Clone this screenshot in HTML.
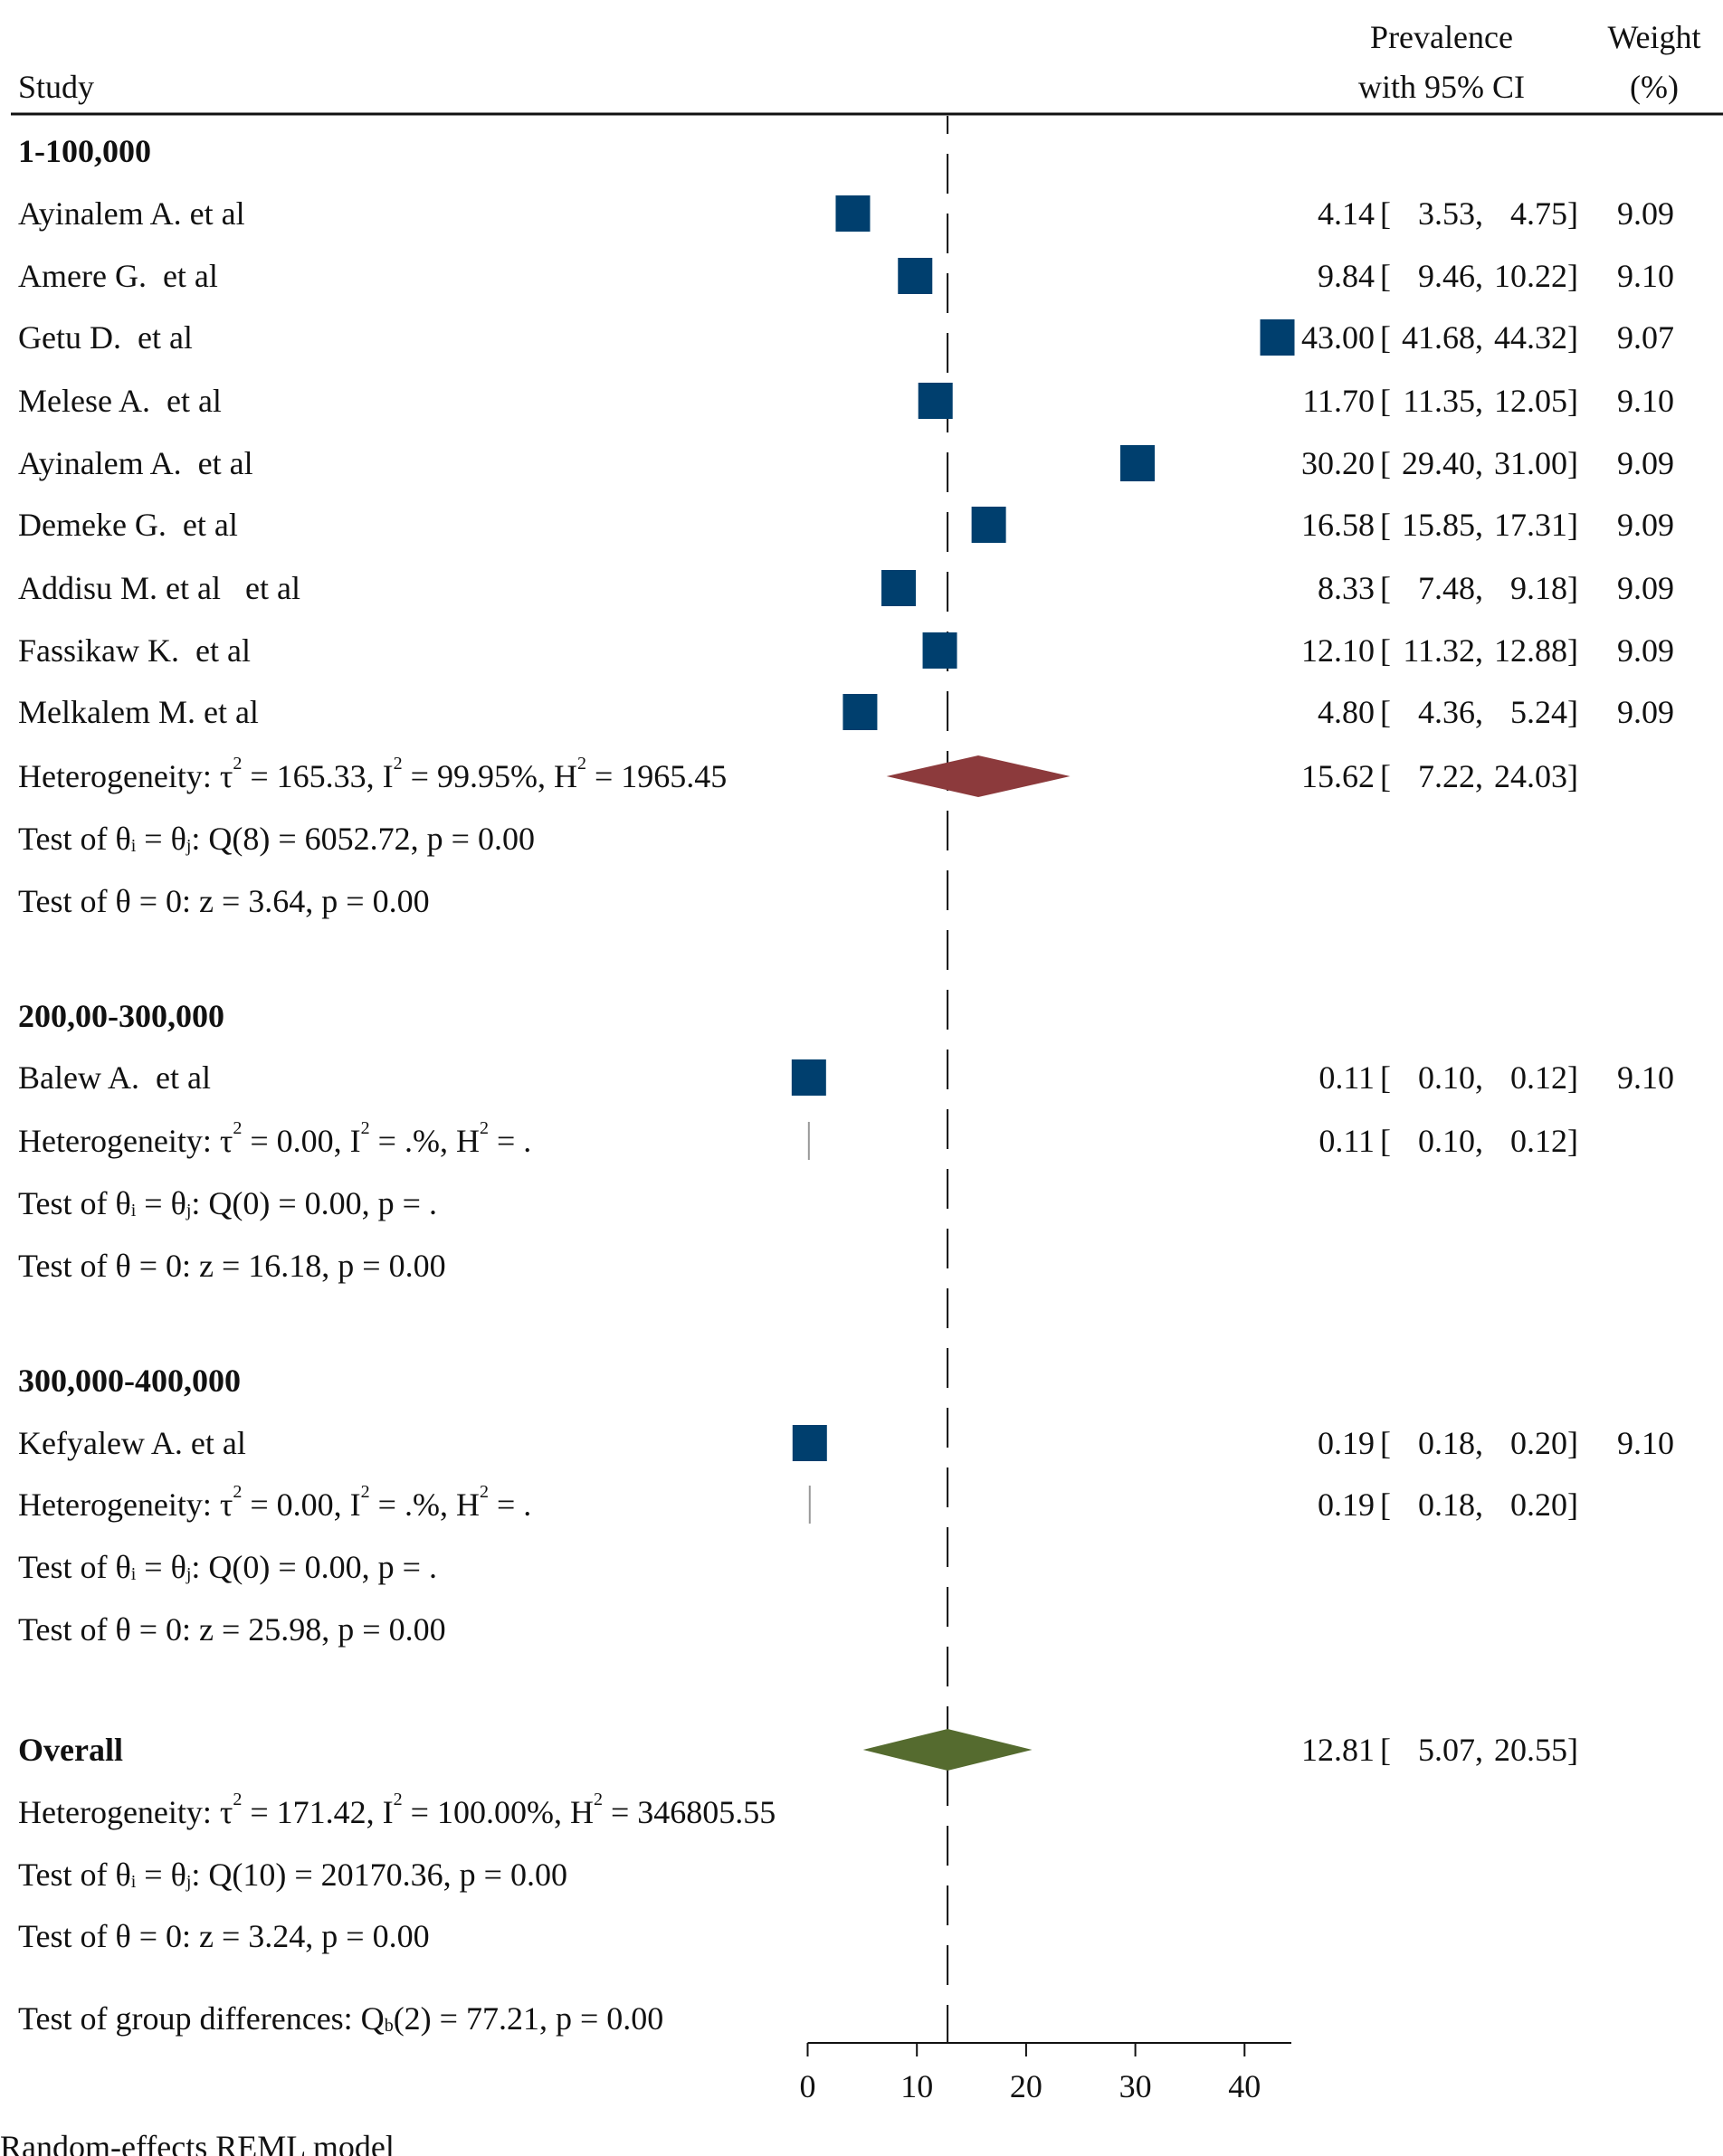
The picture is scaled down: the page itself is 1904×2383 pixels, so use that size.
<!DOCTYPE html>
<html><head><meta charset="utf-8"><style>
html,body{margin:0;padding:0;background:#fff;}
svg{display:block;font-family:"Liberation Serif",serif;}
text{font-size:36px;fill:#111;white-space:pre;}
</style></head><body>
<svg id="chart" width="1904" height="2383" viewBox="0 0 1904 2383" xmlns="http://www.w3.org/2000/svg" xml:space="preserve">
<g>
<text x="20" y="96" dominant-baseline="central">Study</text>
<text x="1593" y="41" text-anchor="middle" dominant-baseline="central">Prevalence</text>
<text x="1593" y="96" text-anchor="middle" dominant-baseline="central">with 95% CI</text>
<text x="1828" y="41" text-anchor="middle" dominant-baseline="central">Weight</text>
<text x="1828" y="96" text-anchor="middle" dominant-baseline="central">(%)</text>
<line x1="12" y1="126" x2="1904" y2="126" stroke="#111" stroke-width="3"/>
</g>
<line id="nullline" stroke="#111" stroke-width="2" stroke-dasharray="44 22" stroke-dashoffset="24"/>
<g id="rows"></g>
<g id="axis"></g>
<text x="0" y="2373" dominant-baseline="central">Random-effects REML model</text>
</svg>
<script>
const studyNames = ["Ayinalem A. et al","Amere G.  et al","Getu D.  et al","Melese A.  et al","Ayinalem A.  et al","Demeke G.  et al","Addisu M. et al   et al","Fassikaw K.  et al","Melkalem M. et al","Balew A.  et al","Kefyalew A. et al"];
const studyEst = [4.14,9.84,43.00,11.70,30.20,16.58,8.33,12.10,4.80,0.11,0.19];
const studyLo = [3.53,9.46,41.68,11.35,29.40,15.85,7.48,11.32,4.36,0.10,0.18];
const studyHi = [4.75,10.22,44.32,12.05,31.00,17.31,9.18,12.88,5.24,0.12,0.20];
const studyWeight = ["9.09","9.10","9.07","9.10","9.09","9.09","9.09","9.09","9.09","9.10","9.10"];
const studyY = [236,305,373,443,512,580,650,719,787,1191,1595];
const groupLabels = ["1-100,000","200,00-300,000","300,000-400,000"];
const groupLabelY = [167,1123,1526];
const poolEst = [15.62,0.11,0.19];
const poolLo = [7.22,0.10,0.18];
const poolHi = [24.03,0.12,0.20];
const poolY = [858,1261,1663];
const overallEst = 12.81, overallLo = 5.07, overallHi = 20.55, overallY = 1934;
const ticks = [0,10,20,30,40];

const X0 = 892.5, PX = 12.07;
const xs = v => X0 + v*PX;
const NS = "http://www.w3.org/2000/svg";
const rows = document.getElementById('rows');
const axis = document.getElementById('axis');
function mk(tag, attrs, parent){const e=document.createElementNS(NS,tag);for(const k in attrs)e.setAttribute(k,attrs[k]);(parent||rows).appendChild(e);return e;}
function txt(x,y,s,anchor,weight){const t=mk('text',{x:x,y:y,'dominant-baseline':'central','text-anchor':anchor||'start'});if(weight)t.setAttribute('font-weight',weight);t.textContent=s;return t;}
const f2 = v => v.toFixed(2);
function ciText(y,est,lo,hi){
  let t=txt(1519,y,f2(est),'end');
  
  
  t=txt(1525,y,'[','start');
  
  
  t=txt(1639,y,f2(lo)+',','end');
  
  
  t=txt(1744,y,f2(hi)+']','end');
  
  
}
function rich(y,parts){
  const t=mk('text',{x:20,y:y,'dominant-baseline':'central'});
  
  
  parts.forEach(p=>{const s=document.createElementNS(NS,'tspan');
    if(typeof p==='string'){s.textContent=p;}
    else{s.textContent=p[0];s.setAttribute('font-size','20');s.setAttribute('baseline-shift',p[1]==='sup'?'14':'-8');}
    t.appendChild(s);});
  return t;
}
function diamond(y,lo,est,hi,col,name){
  const p=mk('polygon',{points:`${xs(lo)},${y} ${xs(est)},${y-23} ${xs(hi)},${y} ${xs(est)},${y+23}`,fill:col});
  
  
  if(xs(hi)-xs(lo)<3){const l=mk('line',{x1:xs(est),x2:xs(est),y1:y-21,y2:y+21,stroke:'#999','stroke-width':2});
    
    }
}
const nl=document.getElementById('nullline');
nl.setAttribute('x1',xs(overallEst));nl.setAttribute('x2',xs(overallEst));nl.setAttribute('y1',128);nl.setAttribute('y2',2258);

groupLabels.forEach((g,i)=>{const t=txt(20,groupLabelY[i],g,'start','bold');
  
  });

studyNames.forEach((n,i)=>{
  const y=studyY[i];
  const t=txt(20,y,n);
  
  
  const r=mk('rect',{x:xs(studyEst[i])-19,y:y-20,width:38,height:40,fill:'#003f6e'});
  
  
  ciText(y,studyEst[i],studyLo[i],studyHi[i]);
  const w=txt(1850,y,studyWeight[i],'end');
  
  
});

const hetStats=[["165.33","99.95%","1965.45"],["0.00",".%","."],["0.00",".%","."]];
const qStats=["Q(8) = 6052.72, p = 0.00","Q(0) = 0.00, p = .","Q(0) = 0.00, p = ."];
const zStats=["z = 3.64, p = 0.00","z = 16.18, p = 0.00","z = 25.98, p = 0.00"];
const poolColor=['#8c3a3c','#999','#999'];
poolY.forEach((y,i)=>{
  rich(y,["Heterogeneity: τ",["2","sup"]," = "+hetStats[i][0]+", I",["2","sup"]," = "+hetStats[i][1]+", H",["2","sup"]," = "+hetStats[i][2]]);
  rich(y+69,["Test of θ",["i","sub"]," = θ",["j","sub"],": "+qStats[i]]);
  rich(y+138,["Test of θ = 0: "+zStats[i]]);
  diamond(y,poolLo[i],poolEst[i],poolHi[i],poolColor[i],'subgroup-diamond');
  ciText(y,poolEst[i],poolLo[i],poolHi[i]);
});
const ov=txt(20,overallY,'Overall','start','bold');


diamond(overallY,overallLo,overallEst,overallHi,'#556b2f','overall-diamond');
ciText(overallY,overallEst,overallLo,overallHi);
rich(2003,["Heterogeneity: τ",["2","sup"]," = 171.42, I",["2","sup"]," = 100.00%, H",["2","sup"]," = 346805.55"]);
rich(2072,["Test of θ",["i","sub"]," = θ",["j","sub"],": Q(10) = 20170.36, p = 0.00"]);
rich(2140,["Test of θ = 0: z = 3.24, p = 0.00"]);
rich(2231,["Test of group differences: Q",["b","sub"],"(2) = 77.21, p = 0.00"]);

const al=mk('line',{x1:xs(0),x2:1427,y1:2258,y2:2258,stroke:'#111','stroke-width':2},axis);


ticks.forEach(v=>{
  const tk=mk('line',{x1:xs(v),x2:xs(v),y1:2258,y2:2273,stroke:'#111','stroke-width':2},axis);
  
  
  const tl=mk('text',{x:xs(v),y:2306,'text-anchor':'middle','dominant-baseline':'central'},axis);
  
  
  tl.textContent=String(v);
});
</script>
</body></html>
